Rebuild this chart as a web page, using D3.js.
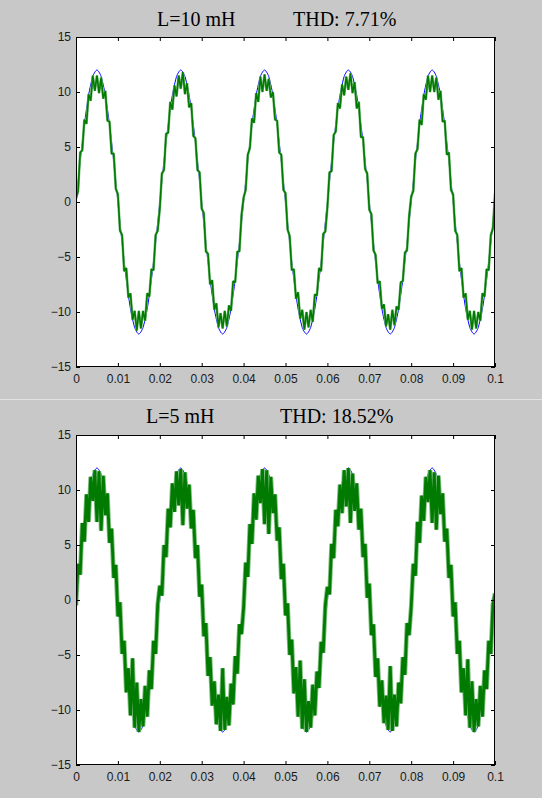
<!DOCTYPE html>
<html><head><meta charset="utf-8">
<script src="https://cdn.jsdelivr.net/npm/d3@7"></script>
<style>
html,body{margin:0;padding:0;background:#c8c8c8;}
svg{display:block;}
</style></head>
<body>
<svg id="chart" width="542" height="798"></svg>
<script>
// ---------- data ----------
const xTicks = [0,0.01,0.02,0.03,0.04,0.05,0.06,0.07,0.08,0.09,0.1];
const xTickLabels = ["0","0.01","0.02","0.03","0.04","0.05","0.06","0.07","0.08","0.09","0.1"];
const yTicks = [15,10,5,0,-5,-10,-15];
const titlesLeft = ["L=10 mH","L=5 mH"];
const titlesRight = ["THD: 7.71%","THD: 18.52%"];

// reference voltage (blue), sampled every 1 ms
const refStep = 0.001;
const refWave = [
 0,3.71,7.05,9.71,11.41,12,11.41,9.71,7.05,3.71,0,-3.71,-7.05,-9.71,-11.41,-12,-11.41,-9.71,-7.05,-3.71,
 0,3.71,7.05,9.71,11.41,12,11.41,9.71,7.05,3.71,0,-3.71,-7.05,-9.71,-11.41,-12,-11.41,-9.71,-7.05,-3.71,
 0,3.71,7.05,9.71,11.41,12,11.41,9.71,7.05,3.71,0,-3.71,-7.05,-9.71,-11.41,-12,-11.41,-9.71,-7.05,-3.71,
 0,3.71,7.05,9.71,11.41,12,11.41,9.71,7.05,3.71,0,-3.71,-7.05,-9.71,-11.41,-12,-11.41,-9.71,-7.05,-3.71,
 0,3.71,7.05,9.71,11.41,12,11.41,9.71,7.05,3.71,0,-3.71,-7.05,-9.71,-11.41,-12,-11.41,-9.71,-7.05,-3.71,
 0];

// measured current (green), sampled every 0.5 ms
const curStep = 0.0005;
const current10mH = [
 0.3,1.0,4.5,4.7,7.5,7.1,9.8,9.2,11.5,10.1,11.5,9.9,11.3,9.4,10.1,7.4,7.3,4.4,4.4,1.2,
 0.7,-2.6,-3.0,-6.3,-6.0,-8.7,-8.3,-10.7,-9.9,-11.7,-9.9,-11.5,-9.9,-10.8,-8.3,-8.6,-6.1,-6.2,-3.0,-2.6,
 -0.6,2.6,2.9,6.2,6.3,9.1,8.4,10.6,9.6,11.5,10.3,11.8,9.8,10.8,8.6,9.0,6.0,5.8,2.9,2.7,
 -0.6,-1.0,-4.5,-4.7,-7.5,-7.1,-9.8,-9.2,-11.4,-10.1,-11.5,-9.9,-11.3,-9.4,-9.9,-7.2,-7.3,-4.5,-4.5,-1.2,
 0.4,1.1,4.3,4.9,7.6,7.2,9.9,9.1,11.4,10.0,11.6,10.1,11.2,9.5,10.0,7.5,7.4,4.5,4.3,1.1,
 0.8,-2.5,-3.1,-6.2,-6.1,-8.8,-8.2,-10.6,-9.8,-11.6,-10.0,-11.4,-9.8,-10.9,-8.4,-8.5,-6.0,-6.3,-2.9,-2.7,
 -0.5,2.7,2.8,6.1,6.4,9.0,8.5,10.7,9.7,11.4,10.2,11.7,9.9,10.9,8.5,9.1,5.9,5.9,3.0,2.6,
 -0.7,-1.1,-4.4,-4.8,-7.4,-7.2,-9.7,-9.3,-11.3,-10.2,-11.6,-9.8,-11.2,-9.5,-9.8,-7.3,-7.2,-4.6,-4.4,-1.3,
 0.5,1.0,4.4,4.8,7.5,7.0,9.8,9.3,11.5,10.0,11.5,10.0,11.3,9.3,10.1,7.3,7.4,4.3,4.5,1.1,
 0.7,-2.6,-3.0,-6.3,-6.0,-8.7,-8.3,-10.7,-9.9,-11.6,-9.9,-11.5,-10.0,-10.8,-8.3,-8.6,-6.1,-6.2,-3.0,-2.4,
 0.8];
const current5mH = [
 -0.5,3.3,2.3,7.0,5.3,9.6,7.1,11.2,9.0,11.8,7.1,11.7,6.3,11.3,7.7,9.7,5.2,6.5,2.0,3.2,
 -1.5,-0.2,-4.9,-3.7,-8.4,-6.2,-10.5,-5.3,-11.6,-7.5,-12.0,-9.0,-11.5,-7.8,-10.6,-6.4,-8.1,-3.7,-4.9,-0.4,
 1.3,0.4,5.0,3.9,8.3,6.6,10.6,8.0,11.7,8.6,11.9,6.8,11.6,8.3,10.5,6.5,8.2,3.8,5.0,0.3,
 1.4,-3.3,-2.1,-6.9,-5.2,-9.6,-7.4,-11.3,-8.6,-11.9,-6.2,-11.8,-8.8,-11.4,-7.6,-9.5,-5.1,-6.7,-2.2,-3.1,
 -0.7,3.4,2.1,6.9,5.1,9.7,7.3,11.3,8.8,11.9,6.9,11.8,6.0,11.2,7.9,9.6,5.4,6.6,1.9,3.3,
 -1.4,-0.3,-5.0,-3.6,-8.5,-6.1,-10.6,-5.5,-11.7,-7.2,-12.0,-9.2,-11.6,-7.7,-10.5,-6.5,-8.0,-3.8,-4.8,-0.5,
 1.2,0.5,5.1,3.8,8.2,6.7,10.5,7.9,11.8,8.5,12.0,7.0,11.5,8.1,10.6,6.4,8.3,3.9,5.1,0.2,
 1.5,-3.2,-2.2,-7.0,-5.3,-9.7,-7.3,-11.2,-8.7,-11.8,-6.0,-11.9,-8.6,-11.5,-7.5,-9.4,-5.2,-6.8,-2.1,-3.2,
 -0.6,3.3,2.2,7.1,5.2,9.5,7.2,11.2,8.9,11.8,7.0,11.6,6.4,11.3,7.8,9.7,5.3,6.5,2.0,3.2,
 -1.5,-0.2,-4.9,-3.7,-8.4,-6.2,-10.5,-5.4,-11.6,-7.4,-12.0,-9.0,-11.5,-7.8,-10.6,-6.4,-8.1,-3.7,-4.9,-0.4,
 0.6];
const currents = [current10mH, current5mH];

// ---------- drawing ----------
const svg = d3.select("#chart");
const W = 542;
const panels = [
  {top: 37, bottom: 367, titleY: 26, wLight: 2.6, wDark: 1.6},
  {top: 435, bottom: 765, titleY: 423, wLight: 4.6, wDark: 2.8}
];
const plotLeft = 76, plotRight = 495;

// separator between the two figures
svg.append("line").attr("x1",0).attr("x2",W).attr("y1",399.5).attr("y2",399.5)
  .attr("stroke","#e2e2e2").attr("stroke-width",1);

panels.forEach((p, pi) => {
  const x = d3.scaleLinear().domain([0,0.1]).range([plotLeft, plotRight]);
  const y = d3.scaleLinear().domain([-15,15]).range([p.bottom, p.top]);
  const g = svg.append("g");

  // title
  const tf = "'Liberation Serif','Times New Roman',serif";
  g.append("text").attr("x", pi===0?157:146).attr("y", p.titleY)
    .attr("font-family", tf).attr("font-size", 20).attr("fill","#000")
    .text(titlesLeft[pi]);
  g.append("text").attr("x", pi===0?293:280).attr("y", p.titleY)
    .attr("font-family", tf).attr("font-size", 20).attr("fill","#000")
    .text(titlesRight[pi]);

  // plot area
  g.append("rect").attr("x", plotLeft).attr("y", p.top)
    .attr("width", plotRight-plotLeft).attr("height", p.bottom-p.top)
    .attr("fill","#fff");

  const clipId = "clip"+pi;
  svg.append("clipPath").attr("id", clipId).append("rect")
    .attr("x", plotLeft).attr("y", p.top)
    .attr("width", plotRight-plotLeft).attr("height", p.bottom-p.top);

  const lineRef = d3.line()
    .x((d,i)=>x(i*refStep)).y(d=>y(d)).curve(d3.curveCardinal.tension(0.3));
  const lineCur = d3.line()
    .x((d,i)=>x(i*curStep)).y(d=>y(d));

  const data = g.append("g").attr("clip-path", `url(#${clipId})`);
  data.append("path").datum(refWave).attr("d", lineRef)
    .attr("fill","none").attr("stroke","#0000ff").attr("stroke-width",1);
  data.append("path").datum(currents[pi]).attr("d", lineCur)
    .attr("fill","none").attr("stroke","#7fbf7f").attr("stroke-width", p.wLight)
    .attr("stroke-linejoin","bevel");
  data.append("path").datum(currents[pi]).attr("d", lineCur)
    .attr("fill","none").attr("stroke","#007a00").attr("stroke-width", p.wDark)
    .attr("stroke-linejoin","bevel");

  // axes
  const font = "'Liberation Sans',Arial,sans-serif";
  const axB = d3.axisBottom(x).tickValues(xTicks)
    .tickFormat((d,i)=>xTickLabels[i]).tickSize(-4).tickPadding(7);
  const axT = d3.axisTop(x).tickValues(xTicks).tickFormat("").tickSize(-4);
  const axL = d3.axisLeft(y).tickValues(yTicks).tickFormat(d3.format("d")).tickSize(-4).tickPadding(5);
  const axR = d3.axisRight(y).tickValues(yTicks).tickFormat("").tickSize(-4);

  const styleAxis = sel => {
    sel.select(".domain").remove();
    sel.selectAll(".tick line").attr("stroke","#000");
    sel.selectAll("text").attr("font-family", font).attr("font-size", 12).attr("fill","#1a1a1a");
  };
  g.append("g").attr("transform",`translate(0,${p.bottom})`).call(axB).call(styleAxis);
  g.append("g").attr("transform",`translate(0,${p.top})`).call(axT).call(styleAxis);
  g.append("g").attr("transform",`translate(${plotLeft},0)`).call(axL).call(styleAxis);
  g.append("g").attr("transform",`translate(${plotRight},0)`).call(axR).call(styleAxis);

  // frame
  g.append("rect").attr("x", plotLeft+0.5).attr("y", p.top+0.5)
    .attr("width", plotRight-plotLeft-1).attr("height", p.bottom-p.top-1)
    .attr("fill","none").attr("stroke","#000").attr("stroke-width",1);
});
</script>
</body></html>
